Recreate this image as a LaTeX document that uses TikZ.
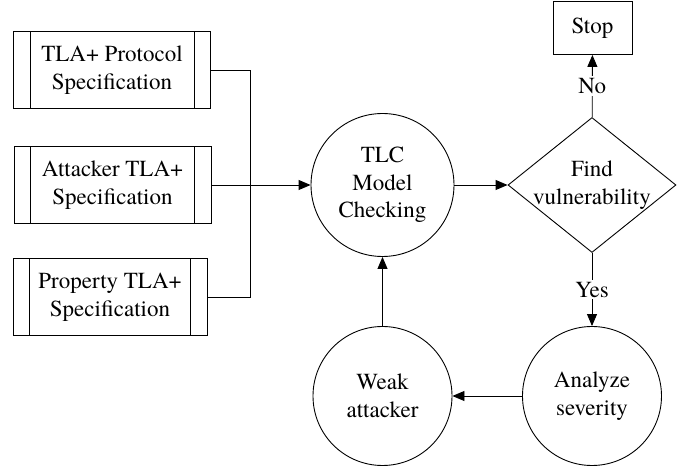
\documentclass[tikz,border=0pt]{standalone}
\usepackage{fontspec}
\setmainfont{texgyretermes-regular.otf}
\usetikzlibrary{shapes.geometric,arrows.meta}
\begin{document}
\begin{tikzpicture}[x=1pt,y=-1pt,line width=0.9pt,inner sep=0pt,
    font=\fontsize{23}{27.5}\selectfont,
    spec/.style={draw, align=center, minimum width=197pt, minimum height=77pt},
    round/.style={draw, circle, align=center, minimum size=#1},
    arr/.style={-{Triangle[length=12pt,width=10pt]}}]
    \useasboundingbox (0,0) rectangle (694,470);
    \def \sidebar {17pt}
    \node[spec] (s1) at (112,70) {TLA+ Protocol\\Specification};
    \node[spec] (s2) at (112.5,185) {Attacker TLA+\\Specification};
    \node[spec, minimum width=194pt] (s3) at (110,297) {Property TLA+\\Specification};
    \foreach \x in {1,2,3}
        \draw ([xshift=\sidebar]s\x.north west) -- ([xshift=\sidebar]s\x.south west)
              ([xshift=-\sidebar]s\x.north east) -- ([xshift=-\sidebar]s\x.south east);

    \node[round=143pt] (tlc) at (382.5,185) {TLC\\Model\\Checking};
    \node[draw, diamond, aspect=1.24, inner sep=-4pt, align=center,
          minimum width=168pt, minimum height=135pt] (find) at (592,185) {Find\\vulnerability};
    \node[draw, minimum width=79pt, minimum height=53pt] (stop) at (592.5,28) {Stop};
    \node[round=139pt] (analyze) at (592,396) {Analyze\\severity};
    \node[round=139pt] (weak) at (382.5,396) {Weak\\attacker};

    \coordinate (j) at (250,185);
    \draw (s1.east) -| (j);
    \draw (s3.east) -| (j);
    \draw[arr] (s2.east) -- (tlc);
    \draw[arr] (tlc) -- (find);
    \draw[arr] (find) -- node[fill=white, inner sep=2pt] {No} (stop);
    \draw[arr] (find) -- node[fill=white, inner sep=2pt] {Yes} (analyze);
    \draw[arr] (analyze) -- (weak);
    \draw[arr] (weak) -- (tlc);
\end{tikzpicture}
\end{document}
